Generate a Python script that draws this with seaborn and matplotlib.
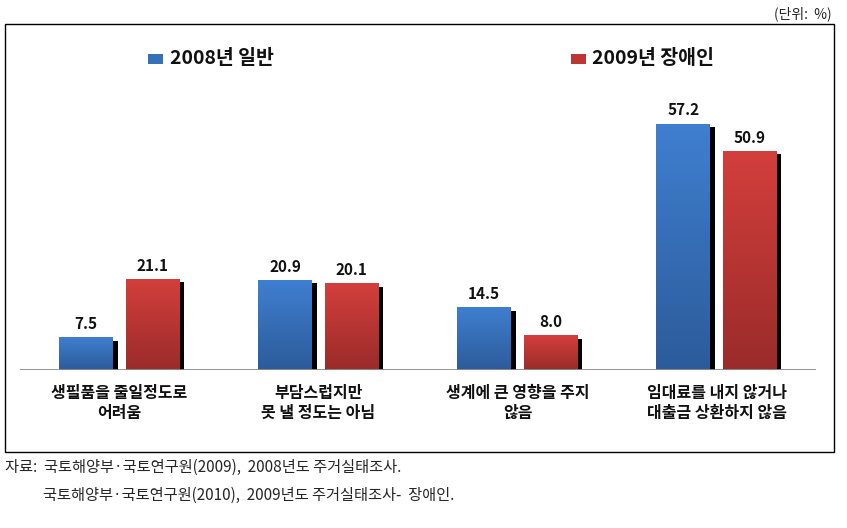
import numpy as np
import pandas as pd
import matplotlib
matplotlib.use("Agg")
import matplotlib.pyplot as plt
import seaborn as sns
from matplotlib.colors import LinearSegmentedColormap
from matplotlib.patches import Rectangle

# ================= DATA =================
categories = [
    "생필품을 줄일정도로\n어려움",
    "부담스럽지만\n못 낼 정도는 아님",
    "생계에 큰 영향을 주지\n않음",
    "임대료를 내지 않거나\n대출금 상환하지 않음",
]
series_names = ["2008년 일반", "2009년 장애인"]
values_2008 = [7.5, 20.9, 14.5, 57.2]
values_2009 = [21.1, 20.1, 8.0, 50.9]

unit_text = "(단위:  %)"
source_lines = [
    "자료:  국토해양부·국토연구원(2009),  2008년도 주거실태조사.",
    "국토해양부·국토연구원(2010),  2009년도 주거실태조사-  장애인.",
]

df = pd.DataFrame({
    "category": categories * 2,
    "series": [series_names[0]] * 4 + [series_names[1]] * 4,
    "value": values_2008 + values_2009,
})

# ================= STYLE =================
sns.set_style("white")
plt.rcParams["font.family"] = ["Noto Sans CJK KR", "DejaVu Sans"]

blue_top, blue_bot = "#3F7FD0", "#2C5B9A"
red_top, red_bot = "#D33F3C", "#9A2B2A"
palette = ["#3670B8", "#BE3634"]

W, H = 847, 528
fig = plt.figure(figsize=(W / 100, H / 100), dpi=100)
ax = fig.add_axes([20 / W, (H - 370) / H, 796 / W, 279.5 / H])

sns.barplot(data=df, x="category", y="value", hue="series", palette=palette,
            width=0.67, gap=0.19, legend=False, ax=ax, saturation=1)

# ================= GRADIENT + SHADOW =================
grad = np.linspace(0, 1, 256).reshape(-1, 1)
grad_cmaps = [
    LinearSegmentedColormap.from_list("b", [blue_bot, blue_top]),
    LinearSegmentedColormap.from_list("r", [red_bot, red_top]),
]
for cont, cmap in zip(ax.containers, grad_cmaps):
    for p in cont.patches:
        x0, w, h = p.get_x(), p.get_width(), p.get_height()
        ax.imshow(grad, extent=(x0, x0 + w, 0, h), origin="lower",
                  aspect="auto", cmap=cmap, zorder=2)
        ax.add_patch(Rectangle((x0 + w, -0.7), 0.022, h, color="black",
                               lw=0, zorder=1.5))
    ax.bar_label(cont, fmt="%.1f", padding=4, fontsize=11,
                 fontweight="bold", color="#111111")

ax.set_xlim(-0.5, 3.5)
ax.set_ylim(0, 65)
ax.axhline(0, color="#8c8c8c", lw=1.3, zorder=3)

sns.despine(ax=ax, left=True, bottom=True)
ax.set_yticks([])
ax.set_xlabel("")
ax.set_ylabel("")
ax.tick_params(axis="x", length=0, pad=11)
for lbl in ax.get_xticklabels():
    lbl.set_fontsize(11.5)
    lbl.set_fontweight("bold")
    lbl.set_linespacing(1.25)
    lbl.set_color("#111111")

# ================= LEGEND =================
for (sx, tx), name, col in zip([(148, 170), (571, 592)], series_names, palette):
    fig.patches.append(Rectangle((sx / W, 1 - 64 / H), 15 / W, 10 / H,
                                 transform=fig.transFigure, color=col, lw=0))
    fig.text(tx / W, 1 - 59 / H, name, fontsize=14, fontweight="bold",
             va="center", ha="left", color="#111111")

# ================= FRAME + NOTES =================
fig.patches.append(Rectangle((4.5 / W, 1 - 451.5 / H), 829 / W, 427.5 / H,
                             transform=fig.transFigure, fill=False,
                             ec="black", lw=1))
fig.text(832 / W, 1 - 14 / H, unit_text, fontsize=10, ha="right", va="center")
fig.text(5 / W, 1 - 467 / H, source_lines[0], fontsize=11, ha="left", va="center")
fig.text(43 / W, 1 - 495 / H, source_lines[1], fontsize=11, ha="left", va="center")

fig.savefig("out.png", dpi=100)
